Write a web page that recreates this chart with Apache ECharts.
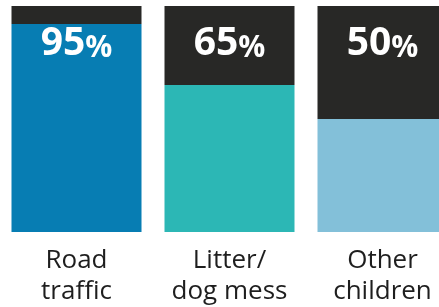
<!DOCTYPE html>
<html>
<head>
<meta charset="utf-8">
<script src="https://cdn.jsdelivr.net/npm/echarts@6/dist/echarts.min.js"></script>
<style>
html,body{margin:0;padding:0;background:#fff;}
#chart{width:439px;height:307px;}
</style>
</head>
<body>
<div id="chart"></div>
<script>
var categories = ['Road\ntraffic', 'Litter/\ndog mess', 'Other\nchildren'];
var shares = [95, 65, 50];          // printed labels
var fills = [92, 65, 50];           // fill height as drawn in the picture
var colours = ['#077db3', '#2cb7b5', '#83c0d9'];

function init(){
	var myChart = echarts.init(document.getElementById('chart'));
	var option = {
		animation: false,
		grid: {left: 0, top: 6, width: 459, bottom: 75, outerBoundsMode: 'none', containLabel: false},
		xAxis: {
			type: 'category',
			data: categories,
			axisLine: {show: false},
			axisTick: {show: false},
			axisLabel: {
				margin: 13,
				fontFamily: 'Open Sans',
				fontSize: 26,
				lineHeight: 31,
				color: '#1e1e1e'
			}
		},
		yAxis: {type: 'value', min: 0, max: 100, show: false},
		series: [
			{
				type: 'bar',
				stack: 'all',
				barWidth: 130,
				silent: true,
				data: fills.map(function(v, i){ return {value: v, itemStyle: {color: colours[i]}}; })
			},
			{
				type: 'bar',
				stack: 'all',
				barWidth: 130,
				silent: true,
				itemStyle: {color: '#282826'},
				data: fills.map(function(v){ return 100 - v; }),
				label: {
					show: true,
					position: 'insideTop',
					distance: 18,
					formatter: function(p){ return '{n|' + shares[p.dataIndex] + '}{p|%}'; },
					rich: {
						n: {fontFamily: 'Open Sans', fontWeight: 'bold', fontSize: 39, color: '#fff', verticalAlign: 'bottom'},
						p: {fontFamily: 'Open Sans', fontWeight: 'bold', fontSize: 30, color: '#fff', verticalAlign: 'bottom'}
					}
				}
			}
		]
	};
	myChart.setOption(option);
}
init();
</script>
</body>
</html>
